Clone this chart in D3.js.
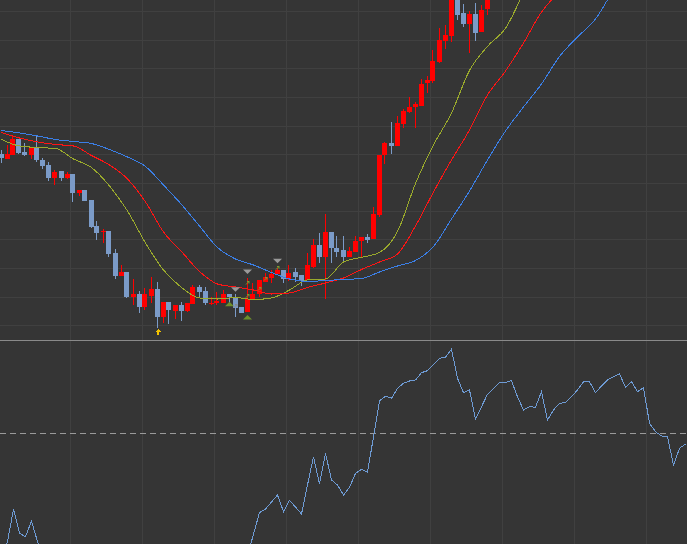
<!DOCTYPE html>
<html>
<head>
<meta charset="utf-8">
<script src="https://cdn.jsdelivr.net/npm/d3@7"></script>
<style>
	html, body { margin: 0; padding: 0; background: #353535; overflow: hidden; }
	svg { display: block; }
</style>
</head>
<body>
<script>
// candle data
var open  = [1186,1181,1185.3,1201,1188,1185.3,1193.3,1180,1175,1162.3,
			 1169,1162.3,1166,1147.3,1150,1140,1114,1108.3,1109,1087,
			 1064.3,1068,1043.3,1046.3,1033.3,1044.3,1051,1023.3,1038,1029,
			 1035,1029,1036,1052.7,1049,1035.7,1036.7,1037.3,1046,1042.7,
			 1033.3,1028.3,1040,1045.7,1058.3,1061.7,1066,1070,1061,1068.3,
			 1065,1060,1073.3,1095,1082.7,1108.3,1092.3,1090,1083.3,1088.3,
			 1099.3,1102.7,1101,1125,1185,1197.3,1194.3,1216,1228.3,1233.3,
			 1234,1256.7,1259,1278,1299.3,1304.3,1350,1327.3,1316,1326,
			 1307.7,1330.7];
var high  = [1190,1195,1205,1201,1196.7,1192.7,1204,1182,1177.7,1170,
			 1169,1167.7,1166,1150,1150,1140,1119,1111,1109,1091,
			 1075,1068,1061,1049,1051.7,1063.3,1057.7,1038,1038,1035,
			 1038,1036.7,1055,1055,1052.7,1043.3,1048.3,1050,1046,1046,
			 1033.3,1061.7,1056.7,1060,1066.7,1070,1071.7,1070,1075,1071.7,
			 1065,1086.7,1100.7,1106.7,1126,1108.3,1104,1104,1093.3,1104,
			 1103.3,1106,1133.3,1185,1198.3,1217.7,1224,1230.7,1242.7,1238.3,
			 1261.3,1264,1290,1311.7,1315,1352,1355,1336,1329.3,1336.7,
			 1335,1365];
var low   = [1177.3,1181,1185.3,1185.7,1184.3,1181,1178.3,1171.3,1159.3,1155,
			 1159.3,1161,1138.3,1144.3,1139,1112.3,1100,1096.7,1082.7,1061,
			 1064.3,1042.3,1035,1027.3,1030.3,1036.7,1012.3,1017.3,1015.7,1021,
			 1019.3,1027.7,1036,1041.7,1035,1035,1035,1036.7,1036.7,1023.3,
			 1026.7,1028.3,1040,1043.3,1058.3,1057.3,1066,1056.7,1059,1058.3,
			 1054,1060,1071.7,1076.7,1041,1076.7,1083.3,1078.3,1083.3,1088.3,
			 1082,1096.7,1101,1123.3,1176,1186,1194.3,1212.3,1226.7,1212.3,
			 1234,1247.3,1256.7,1276.7,1290.7,1297.7,1320,1313.3,1287.5,1299.3,
			 1307.7,1325];
var close = [1182.3,1186.3,1201,1187.3,1185.3,1192.7,1180,1174.3,1162.3,1168.3,
			 1162.3,1166,1147.3,1150,1139.3,1113,1107.3,1109,1086.3,1064.3,
			 1068,1043.3,1046.3,1033.3,1046.3,1051,1023.3,1038,1030,1035,
			 1029,1036.7,1053.3,1048.3,1036.7,1037.3,1039.3,1046,1042.7,1031.7,
			 1027.3,1040.7,1045.7,1060,1062.7,1066,1070,1061,1067.3,1063.3,
			 1059.3,1075,1095,1082.7,1108.3,1092.3,1088.3,1082.7,1089,1099.3,
			 1103.3,1100,1126,1185,1196.7,1194.3,1216.7,1229,1232.7,1236,
			 1256,1260,1279,1300,1305,1345,1325,1316,1326,1307.3,
			 1330,1360];

// moving averages, sampled every 3rd bar
var maIdx = [0,3,6,9,12,15,18,21,24,27,30,33,36,39,42,45,48,51,54,57,
			 60,63,66,69,72,75,78,81,84,87,90,93,96,99,102];
var maSlow = [1209.5,1207,1204,1200.5,1198.5,1196.5,1190.5,1183,1173.5,1155,
			  1135.5,1114,1092.5,1081,1075,1067.5,1061,1058.5,1059.5,1060.5,
			  1061.5,1068,1074,1079.5,1093.5,1121,1149,1180,1209,1233,
			  1256,1283.5,1303,1321,1351];
var maMid  = [1207.5,1202,1198,1195.5,1194,1184.5,1175,1161,1138,1108,
			  1088.5,1068.5,1056,1053,1050,1046,1047,1052.5,1057,1062,
			  1070.5,1078,1086,1114,1148,1180,1210,1245,1269,1297,
			  1328,1348];
var maFast = [1200.5,1194,1192.5,1191.5,1181,1172.5,1154,1129,1097,1070,
			  1052.5,1042,1041,1042.5,1040.5,1042,1050,1060,1061,1078,
			  1082.7,1087.5,1108.5,1156.5,1195,1227,1269.5,1293.7,1311.7,1348];

// oscillator, one value per bar
var osc = [-132,-108,-76,-100,-103.4,-87.7,-108.4,
		   -125,-138,-146,-140,-152,-160,-150,-164,-172,-168,-158,-170,-182,-178,-168,-163,
		   -158,-170,-176,-162,-150,-156,-146,-152,-157,-148,-140,-151,-146,-138,-143,-150,-136,-128,
		   -123,-100.7,-79.4,-75.7,-68.7,-61.7,-78.4,-67,-73.7,-80.7,
		   -51.7,-23.4,-50.7,-20,-46.7,-51.7,-61.7,-54,-40,-36,
		   -39,-3.4,32.6,37,35,45,50,52.3,53.3,60.6,
		   62.6,69,75,76,84,55,40.6,43.3,14,26.6,
		   39,45,51,51,52.6,36.6,23.3,26.6,26,41.6,
		   13.3,23.3,30,30.6,36.6,43.3,51.6,51.6,40.6,47.3,
		   53.3,56.6,59.3,46,51.6,41.6,45.6,10,1.6,-2.7,
		   -3.4,-31.7,-15,-10.7];

// signals
var sellIdx = [39, 41, 46],	sellPrice = [1048.3, 1066, 1076.7];
var buyIdx  = [38, 41],		buyPrice  = [1038.3, 1025];
var tradeIdx = [39, 41, 41, 43, 44, 46], tradePrice = [1034, 1057, 1044, 1051, 1061, 1072];
var alertIdx = [26],		alertPrice = [1011];

// grid
var gridPrices = [1014.5,1043,1071.5,1100,1128.5,1157,1185.5,1214,1242.5,1271,1299.5,1328];
var gridIdx    = [11.5,23.5,35.5,47.5,59.5,71.5,83.5,95.5,107.5];

var W = 687, H = 544, split = 340;

var svg = d3.select("body").append("svg")
	.attr("width", W)
	.attr("height", H);

var x   = d3.scaleLinear().domain([0, 114]).range([1.5, 685.5]),
	y   = d3.scaleLinear().domain([1000, 1340]).range([split, 0]),
	yOs = d3.scaleLinear().domain([-100, 100]).range([533.3, 333.3]);

var defs = svg.append("defs");
defs.append("clipPath").attr("id", "clipTop")
	.append("rect").attr("x", 0).attr("y", 0).attr("width", W).attr("height", split);
defs.append("clipPath").attr("id", "clipBot")
	.append("rect").attr("x", 0).attr("y", split + 1).attr("width", W).attr("height", H - split - 1);

svg.append("rect").attr("width", W).attr("height", H).attr("fill", "#353535");

// grid lines
var grid = svg.append("g").attr("stroke", "#404040").attr("stroke-width", 1).attr("shape-rendering", "crispEdges");
grid.selectAll("line.h").data(gridPrices).enter().append("line")
	.attr("class", "h")
	.attr("x1", 0).attr("x2", W)
	.attr("y1", function(d){ return Math.floor(y(d)) + 0.5; })
	.attr("y2", function(d){ return Math.floor(y(d)) + 0.5; });
grid.selectAll("line.v").data(gridIdx).enter().append("line")
	.attr("class", "v")
	.attr("x1", function(d){ return Math.floor(x(d)) + 0.5; })
	.attr("x2", function(d){ return Math.floor(x(d)) + 0.5; })
	.attr("y1", 0).attr("y2", H);

// price panel
var priceG = svg.append("g").attr("clip-path", "url(#clipTop)");

var bars = open.map(function(o, i){
	return { i: i, o: o, h: high[i], l: low[i], c: close[i] };
});

var upCol = "#ff0000", dnCol = "#7b9bc8";

var candle = priceG.append("g").attr("shape-rendering", "crispEdges")
	.selectAll("g").data(bars).enter().append("g")
	.attr("fill", function(d){ return d.c >= d.o ? upCol : dnCol; });

candle.append("rect")
	.attr("x", function(d){ return Math.round(x(d.i)) - 1; })
	.attr("width", 1)
	.attr("y", function(d){ return y(d.h); })
	.attr("height", function(d){ return Math.max(1, y(d.l) - y(d.h)); });

candle.append("rect")
	.attr("x", function(d){ return Math.round(x(d.i)) - 3; })
	.attr("width", 5)
	.attr("y", function(d){ return y(Math.max(d.o, d.c)); })
	.attr("height", function(d){ return Math.max(1, Math.abs(y(d.o) - y(d.c))); });

// moving averages
var maLine = d3.line()
	.x(function(d, i){ return x(maIdx[i]); })
	.y(function(d){ return y(d); })
	.curve(d3.curveMonotoneX);

[[maFast, "#9aaa2c"], [maMid, "#ff1414"], [maSlow, "#3b7fe6"]].forEach(function(m){
	priceG.append("path")
		.datum(m[0])
		.attr("d", maLine)
		.attr("fill", "none")
		.attr("stroke", m[1])
		.attr("stroke-width", 1)
		.attr("shape-rendering", "crispEdges");
});

// signal markers
priceG.selectAll("path.sell").data(sellIdx).enter().append("path")
	.attr("class", "sell")
	.attr("fill", "#9a9a9a")
	.attr("d", function(d, i){
		var cx = x(d), ty = y(sellPrice[i]);
		return "M" + (cx - 4.5) + "," + (ty - 4.5) + "L" + (cx + 4.5) + "," + (ty - 4.5) + "L" + cx + "," + ty + "Z";
	});

priceG.selectAll("path.buy").data(buyIdx).enter().append("path")
	.attr("class", "buy")
	.attr("fill", "#6e8f2c")
	.attr("d", function(d, i){
		var cx = x(d), ty = y(buyPrice[i]);
		return "M" + (cx - 4.5) + "," + (ty + 4.5) + "L" + (cx + 4.5) + "," + (ty + 4.5) + "L" + cx + "," + ty + "Z";
	});

priceG.selectAll("path.trade").data(tradeIdx).enter().append("path")
	.attr("class", "trade")
	.attr("fill", "none")
	.attr("stroke", function(d, i){ return i == 0 ? "#8a8a8a" : "#7d9a30"; })
	.attr("stroke-width", 1)
	.attr("d", function(d, i){
		var cx = x(d), cy = y(tradePrice[i]);
		return "M" + (cx - 1.5) + "," + (cy + 1.5) + "L" + (cx + 1.5) + "," + (cy - 1.5) +
			"M" + (cx - 0.5) + "," + (cy - 1.5) + "L" + (cx + 1.5) + "," + (cy - 1.5) + "L" + (cx + 1.5) + "," + (cy + 0.5);
	});

priceG.selectAll("path.alert").data(alertIdx).enter().append("path")
	.attr("class", "alert")
	.attr("fill", "#f2c200")
	.attr("shape-rendering", "crispEdges")
	.attr("d", function(d, i){
		var cx = Math.round(x(d)), ty = Math.round(y(alertPrice[i]));
		return "M" + (cx - 3) + "," + (ty + 3) + "L" + cx + "," + ty + "L" + (cx + 3) + "," + (ty + 3) +
			"L" + (cx + 1) + "," + (ty + 3) + "L" + (cx + 1) + "," + (ty + 6) + "L" + (cx - 1) + "," + (ty + 6) +
			"L" + (cx - 1) + "," + (ty + 3) + "Z";
	});

// panel separator
svg.append("line")
	.attr("x1", 0).attr("x2", W)
	.attr("y1", split + 0.5).attr("y2", split + 0.5)
	.attr("stroke", "#8a8a8a")
	.attr("shape-rendering", "crispEdges");

// oscillator panel
var oscG = svg.append("g").attr("clip-path", "url(#clipBot)");

oscG.append("line")
	.attr("x1", 0).attr("x2", W)
	.attr("y1", Math.floor(yOs(0)) + 0.5).attr("y2", Math.floor(yOs(0)) + 0.5)
	.attr("stroke", "#9a9a9a")
	.attr("stroke-dasharray", "6,4")
	.attr("shape-rendering", "crispEdges");

oscG.append("path")
	.datum(osc)
	.attr("d", d3.line()
		.x(function(d, i){ return x(i); })
		.y(function(d){ return yOs(d); }))
	.attr("fill", "none")
	.attr("stroke", "#6e9bd4")
	.attr("stroke-width", 1)
	.attr("shape-rendering", "crispEdges");
</script>
</body>
</html>
